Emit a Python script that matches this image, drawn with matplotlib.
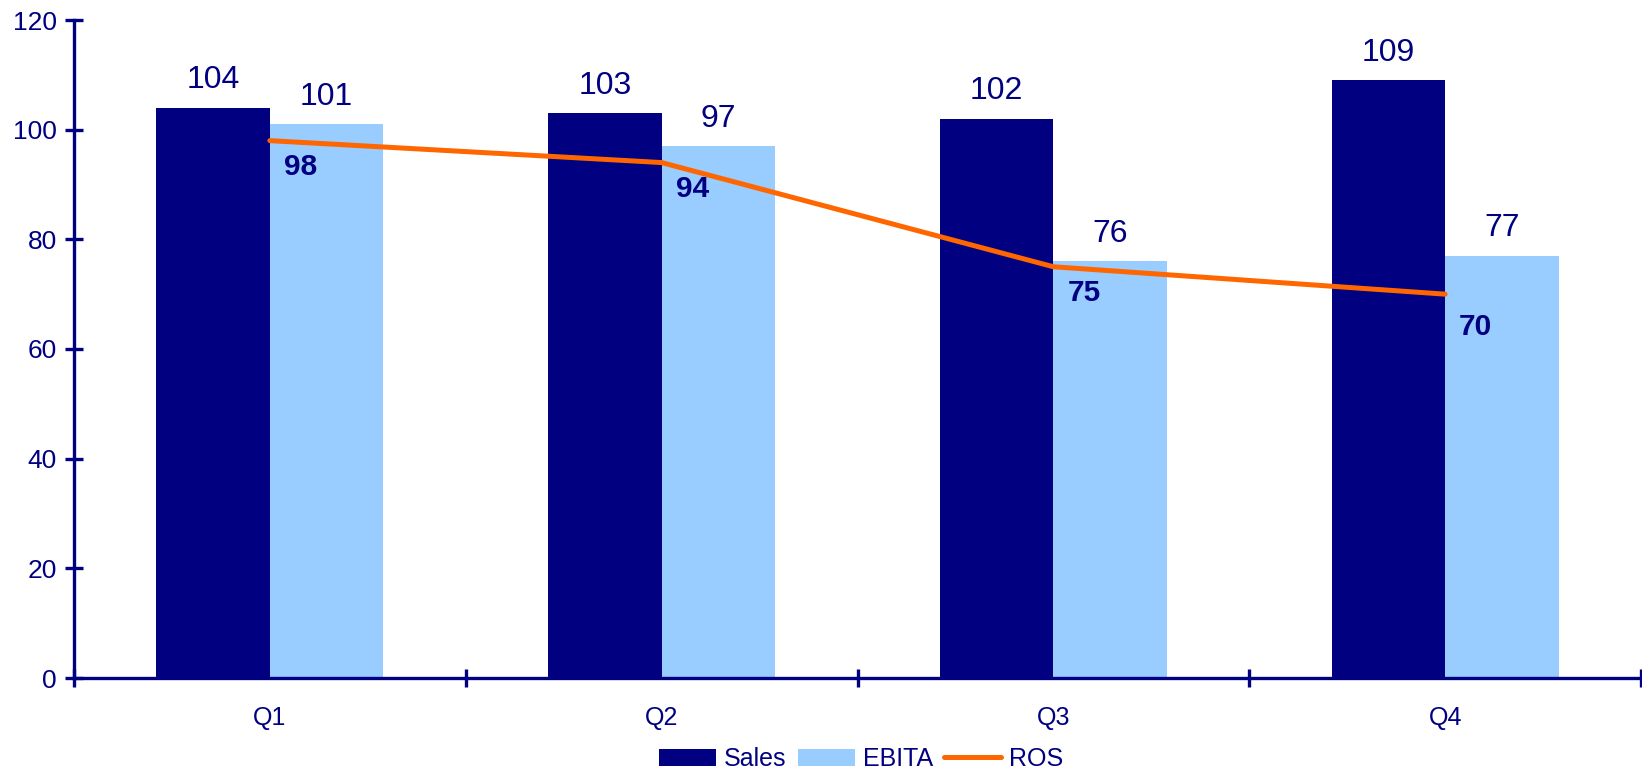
import numpy as np
import matplotlib.pyplot as plt
from matplotlib.ticker import FixedLocator

plt.rcParams['font.family'] = ['Liberation Sans', 'DejaVu Sans']

quarters = ['Q1', 'Q2', 'Q3', 'Q4']
sales = [104, 103, 102, 109]
ebita = [101, 97, 76, 77]
ros = [98, 94, 75, 70]

navy = '#000080'
light = '#99CCFF'
orange = '#FF6600'

fig = plt.figure(figsize=(16.42, 7.70), dpi=100)
ax = fig.add_axes([74 / 1642, 1 - 678 / 770, 1567 / 1642, (678 - 20) / 770])

x = np.arange(len(quarters))
w = 0.29
b1 = ax.bar(x - w / 2, sales, w, color=navy, label='Sales', zorder=2)
b2 = ax.bar(x + w / 2, ebita, w, color=light, label='EBITA', zorder=2)
ln, = ax.plot(x, ros, color=orange, lw=3.6, solid_capstyle='round', label='ROS', zorder=3)

for bars in (b1, b2):
    for r in bars:
        ax.annotate(str(int(r.get_height())), (r.get_x() + r.get_width() / 2, r.get_height()),
                    xytext=(0, 9), textcoords='offset points', ha='center', va='bottom',
                    fontsize=23, color=navy)

# ROS labels sit under the line, the last one a bit lower
dy = [-19, -19, -19, -24]
for xi, v, d in zip(x, ros, dy):
    ax.annotate(str(v), (xi, v), xytext=(22, d), textcoords='offset points',
                ha='center', va='center', fontsize=21.5, fontweight='bold', color=navy)

ax.set_xlim(-0.5, 3.5)
ax.set_ylim(0, 120)
ax.set_yticks(range(0, 121, 20))
ax.xaxis.set_major_locator(FixedLocator([-0.5, 0.5, 1.5, 2.5, 3.5]))
ax.xaxis.set_major_formatter(plt.NullFormatter())
ax.xaxis.set_minor_locator(FixedLocator(x))
ax.set_xticklabels(quarters, minor=True)

for s in ('top', 'right'):
    ax.spines[s].set_visible(False)
for s in ('left', 'bottom'):
    ax.spines[s].set_color(navy)
    ax.spines[s].set_linewidth(2.4)
    ax.spines[s].set_zorder(4)

ax.tick_params(axis='both', which='major', direction='inout', length=13, width=2.4,
               color=navy, labelcolor=navy, labelsize=19)
ax.tick_params(axis='x', which='minor', length=0, labelcolor=navy, labelsize=18, pad=20)
ax.tick_params(axis='y', pad=6)

leg = fig.legend(handles=[b1, b2, ln], loc='center', bbox_to_anchor=(861 / 1642, 1 - 759 / 770),
                 ncol=3, frameon=False, fontsize=18, handlelength=2.3, handleheight=0.65,
                 handletextpad=0.3, columnspacing=0.45, borderaxespad=0)
for t in leg.get_texts():
    t.set_color(navy)

fig.savefig('out.png', dpi=100)
